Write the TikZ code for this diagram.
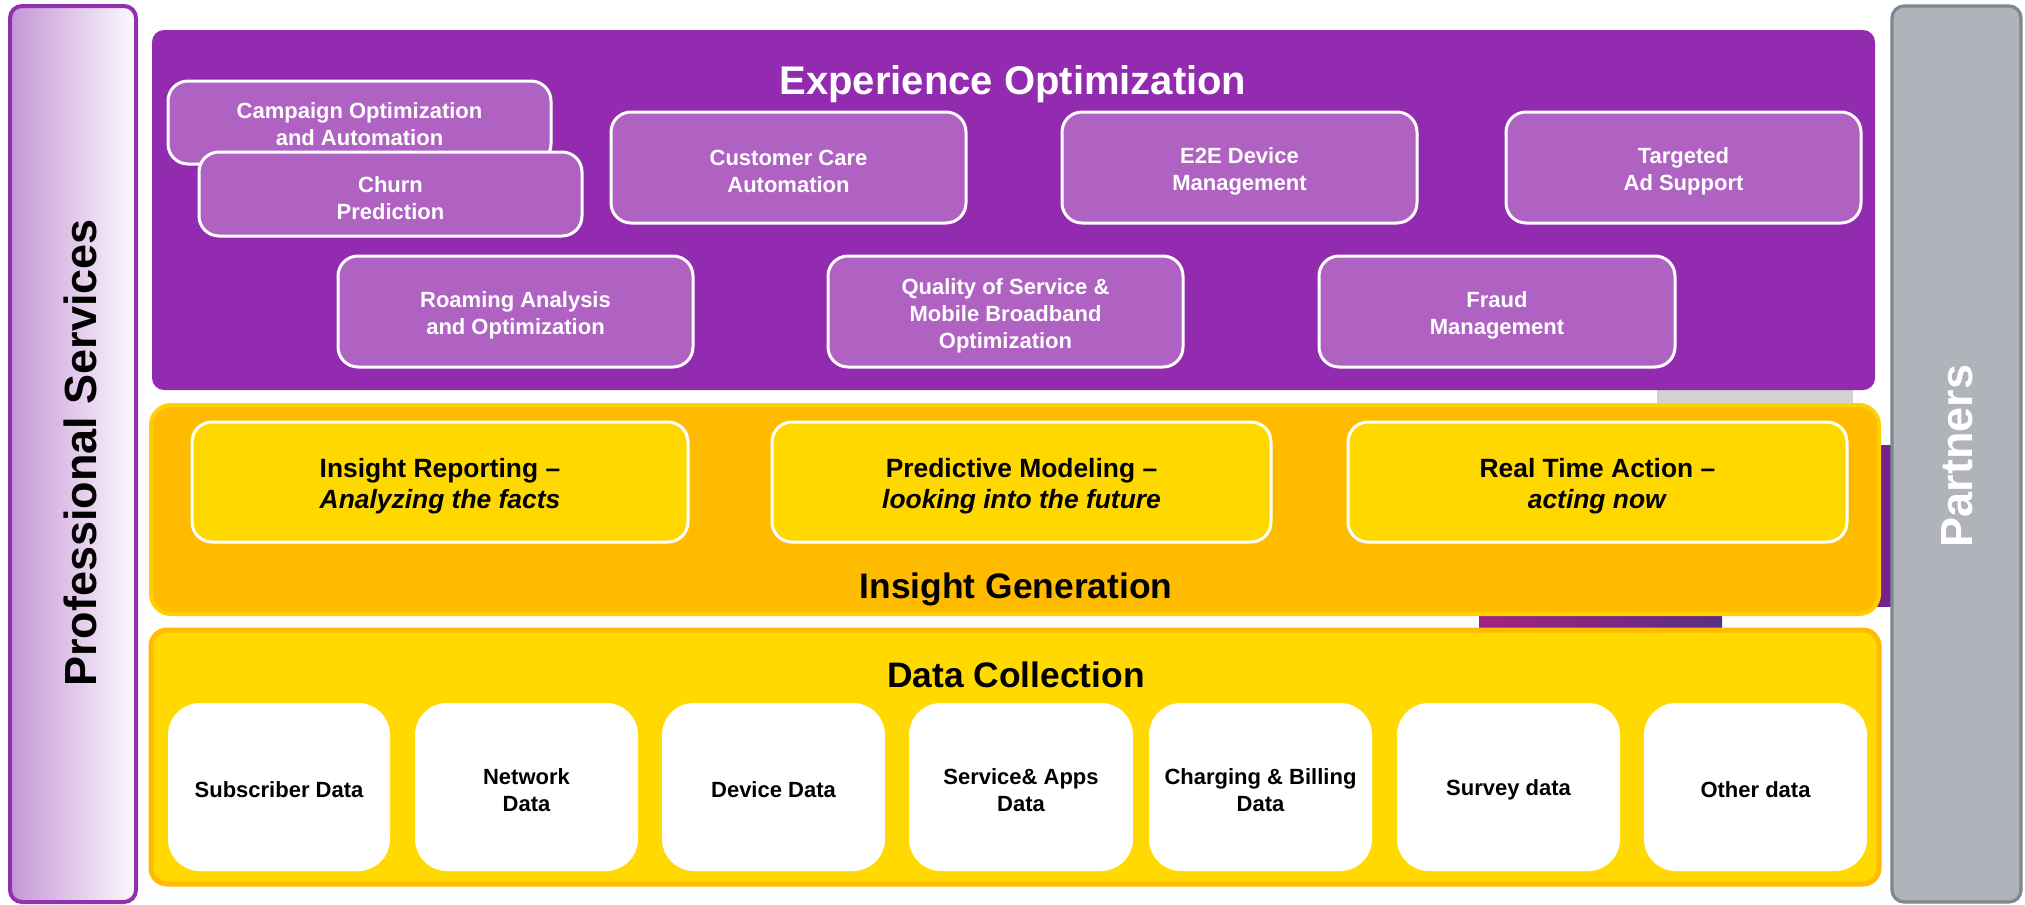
\documentclass[tikz,border=0pt]{standalone}
\usepackage{fontspec}
\setmainfont{Liberation Sans}
\definecolor{purp}{HTML}{922BB0}
\definecolor{purpl}{HTML}{B062C3}
\definecolor{orng}{HTML}{FFBB00}
\definecolor{orngb}{HTML}{FFD000}
\definecolor{yel}{HTML}{FFD900}
\definecolor{yelin}{HTML}{FFD800}
\definecolor{psb}{HTML}{9130B0}
\definecolor{psl}{HTML}{C596D6}
\definecolor{gry}{HTML}{B0B3BA}
\definecolor{gryb}{HTML}{7B8791}
\definecolor{bgmag}{HTML}{A3237F}
\definecolor{bgvio}{HTML}{5A2D87}
\begin{document}
\begin{tikzpicture}[x=0.5pt,y=-0.5pt,
  every node/.style={inner sep=0pt, align=center},
  sidebox/.style={draw=psb, line width=2pt, rounded corners=6pt, left color=psl, right color=psl!5!white, minimum width=63pt, minimum height=448pt},
  partbox/.style={draw=gryb, line width=1.6pt, fill=gry, rounded corners=6pt, minimum width=64.5pt, minimum height=448pt},
  sidetext/.style={rotate=90, font=\bfseries\fontsize{22.5}{26}\selectfont},
  expbox/.style={fill=purp, rounded corners=6pt},
  pbox/.style={draw=white, line width=1.5pt, fill=purpl, rounded corners=10pt, minimum width=177.5pt, minimum height=55.5pt},
  ptxt/.style={text=white, font=\bfseries\fontsize{11}{13.5}\selectfont},
  igbox/.style={draw=orngb, line width=2pt, fill=orng, rounded corners=10pt},
  ibox/.style={draw=white, line width=1.5pt, fill=yelin, rounded corners=10pt, minimum width=249pt, minimum height=60pt},
  itxt/.style={font=\bfseries\fontsize{13.2}{15.8}\selectfont},
  dcbox/.style={draw=orng, line width=2.5pt, fill=yel, rounded corners=8pt},
  dbox/.style={fill=white, rounded corners=16pt, minimum width=111.5pt, minimum height=84pt},
  dtxt/.style={font=\bfseries\fontsize{11}{13.3}\selectfont},
  bigtitle/.style={font=\bfseries\fontsize{17.7}{20}\selectfont}
]
\useasboundingbox (0,0) rectangle (2025,905);
% background fragments
\fill[left color=bgmag, right color=bgvio] (1479,600) rectangle (1722,632);
\fill[gray!35] (1657,388) rectangle (1853,408);
\fill[purp!80!black] (1876,445) rectangle (1891,607);

% side bars
\node[sidebox] (prof) at (73,454) {};
\node[sidetext] (proftxt) at (80,453) {Professional Services};
\node[partbox] (part) at (1956.5,454) {};
\node[sidetext, text=white] (parttxt) at (1957,456) {Partners};

% Experience optimization
\node[expbox, minimum width=861.5pt, minimum height=180pt] (exp) at (1013.5,210) {};
\node[font=\bfseries\fontsize{20}{24}\selectfont, text=white] (exptitle) at (1013,84) {Experience Optimization};
\node[pbox, minimum width=191.5pt, minimum height=41.5pt] (camp) at (359.5,122.5) {};
\node[ptxt] (camp-t) at ([yshift=-0.8pt]camp.center) {Campaign Optimization\\and Automation};
\node[pbox, minimum width=191.5pt, minimum height=42pt] (churn) at (390.5,194) {};
\node[ptxt] (churn-t) at ([yshift=-2pt]churn.center) {Churn\\Prediction};
\node[pbox] (cca) at (788.5,167.5) {};
\node[ptxt] (cca-t) at ([yshift=-2pt]cca.center) {Customer Care\\Automation};
\node[pbox] (e2e) at (1239.5,167.5) {};
\node[ptxt] (e2e-t) at ([yshift=-2pt]e2e.center) {E2E Device\\Management};
\node[pbox] (tad) at (1683.5,167.5) {};
\node[ptxt] (tad-t) at ([yshift=-2pt]tad.center) {Targeted\\Ad Support};
\node[pbox] (roam) at (515.5,311.5) {};
\node[ptxt] (roam-t) at ([yshift=-2pt]roam.center) {Roaming Analysis\\and Optimization};
\node[pbox] (qos) at (1005.5,311.5) {};
\node[ptxt] (qos-t) at ([yshift=-2pt]qos.center) {Quality of Service \&\\Mobile Broadband\\Optimization};
\node[pbox, minimum width=178pt] (fraud) at (1497,311.5) {};
\node[ptxt] (fraud-t) at ([yshift=-2pt]fraud.center) {Fraud\\Management};

% Insight generation
\node[igbox, minimum width=864pt, minimum height=104.5pt] (ig) at (1015,509.5) {};
\node[ibox, minimum width=248pt] (ir) at (440,482) {};
\node[itxt] (ir-t) at ([yshift=-2pt]ir.center) {Insight Reporting --\\\textit{Analyzing the facts}};
\node[ibox, minimum width=249.5pt] (pm) at (1021.5,482) {};
\node[itxt] (pm-t) at ([yshift=-2pt]pm.center) {Predictive Modeling --\\\textit{looking into the future}};
\node[ibox, minimum width=249.5pt] (rta) at (1597.5,482) {};
\node[itxt] (rta-t) at ([yshift=-2pt]rta.center) {Real Time Action --\\\textit{acting now}};
\node[bigtitle] (igtitle) at (1016,589) {Insight Generation};

% Data collection
\node[dcbox, minimum width=864pt, minimum height=127pt] (dc) at (1015,757) {};
\node[bigtitle] (dctitle) at (1016,675) {Data Collection};
\node[dbox, minimum width=111pt] (d1) at (279,787) {};
\node[dtxt] (d1-t) at ([yshift=-1.5pt]d1.center) {Subscriber Data};
\node[dbox] (d2) at (526.5,787) {};
\node[dtxt] (d2-t) at ([yshift=-1.5pt]d2.center) {Network\\Data};
\node[dbox] (d3) at (773.5,787) {};
\node[dtxt] (d3-t) at ([yshift=-1.5pt]d3.center) {Device Data};
\node[dbox, minimum width=112pt] (d4) at (1021,787) {};
\node[dtxt] (d4-t) at ([yshift=-1.5pt]d4.center) {Service\& Apps\\Data};
\node[dbox] (d5) at (1260.5,787) {};
\node[dtxt] (d5-t) at ([yshift=-1.5pt]d5.center) {Charging \& Billing\\Data};
\node[dbox] (d6) at (1508.5,787) {};
\node[dtxt] (d6-t) at ([yshift=-1.5pt]d6.center) {Survey data};
\node[dbox] (d7) at (1755.5,787) {};
\node[dtxt] (d7-t) at ([yshift=-1.5pt]d7.center) {Other data};
\end{tikzpicture}
\end{document}
